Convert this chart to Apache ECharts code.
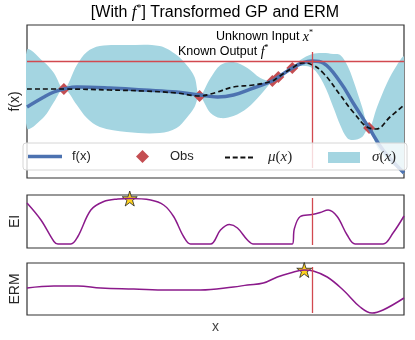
<!DOCTYPE html>
<html>
<head>
<meta charset="utf-8">
<script src="https://cdn.jsdelivr.net/npm/echarts@6/dist/echarts.min.js"></script>
<style>
  html, body { margin: 0; padding: 0; background: #fff; }
  #main { width: 415px; height: 340px; }
</style>
</head>
<body>
<div id="main"></div>
<script>
// top panel: true function f(x)
var fX = [0, 0.17, 0.27, 0.37, 0.50, 0.83, 1.17, 1.50, 1.73, 1.91, 2.07, 2.27, 2.46, 2.52, 2.66, 2.76, 2.86, 2.97, 3.14, 3.27, 3.43, 3.57, 3.78]
var fY = [7.1, 8.1, 8.6, 8.9, 9.1, 9.0, 8.8, 8.6, 8.3, 8.1, 8.3, 9.0, 9.7, 10.1, 11.0, 11.5, 11.7, 11.5, 9.6, 7.5, 5.0, 2.8, 0.5]
// GP mean
var muX = [0, 0.37, 0.83, 1.17, 1.50, 1.73, 1.84, 1.91, 2.07, 2.27, 2.46, 2.52, 2.66, 2.76, 2.84, 2.97, 3.14, 3.27, 3.43, 3.50, 3.64, 3.78]
var muY = [8.9, 8.9, 8.8, 8.7, 8.5, 8.2, 8.4, 8.6, 9.1, 9.3, 9.7, 10.1, 11.0, 11.5, 11.4, 10.5, 8.3, 6.6, 5.0, 4.9, 6.1, 7.3]
// uncertainty band
var sigX = [0, 0.17, 0.27, 0.37, 0.50, 0.60, 0.73, 1.00, 1.33, 1.50, 1.60, 1.68, 1.73, 1.84, 1.94, 2.07, 2.21, 2.34, 2.46, 2.52, 2.59, 2.66, 2.74, 2.86, 2.97, 3.07, 3.14, 3.21, 3.27, 3.36, 3.43, 3.51, 3.61, 3.71, 3.78]
var sigUp = [12.8, 11.6, 10.5, 8.9, 11.3, 12.6, 13.2, 13.3, 13.2, 12.3, 11.3, 10.1, 8.2, 10.0, 11.3, 11.6, 11.0, 10.0, 9.7, 10.1, 10.7, 11.0, 11.8, 12.4, 12.5, 12.4, 12.3, 11.3, 9.8, 7.1, 5.0, 7.1, 9.5, 11.3, 12.1]
var sigLo = [5.0, 6.1, 7.6, 8.9, 7.3, 6.0, 5.1, 4.6, 4.5, 5.0, 6.0, 7.1, 8.2, 6.5, 6.0, 6.2, 7.0, 8.3, 9.7, 10.1, 10.4, 11.0, 11.2, 11.0, 9.5, 7.1, 5.3, 4.0, 3.8, 4.1, 5.0, 3.1, 1.8, 1.0, 0.5]
// observations
var obsX = [0.37, 1.73, 2.46, 2.52, 2.66, 3.43]
var obsY = [8.9, 8.2, 9.7, 10.1, 11.0, 5.0]
// known optimum
var xStar = 2.86
var fStar = 11.7

// EI panel
var eiX = [0, 0.14, 0.27, 0.31, 0.44, 0.51, 0.64, 0.77, 0.91, 1.03, 1.24, 1.37, 1.47, 1.57, 1.64, 1.84, 1.94, 2.03, 2.11, 2.21, 2.27, 2.66, 2.68, 2.74, 2.86, 2.94, 3.02, 3.11, 3.21, 3.29, 3.57, 3.67, 3.78]
var eiY = [0.82, 0.48, 0.05, 0, 0, 0.15, 0.68, 0.85, 0.90, 0.91, 0.88, 0.78, 0.55, 0.15, 0, 0, 0.28, 0.39, 0.32, 0.08, 0, 0, 0.30, 0.55, 0.59, 0.63, 0.68, 0.55, 0.18, 0, 0, 0.22, 0.56]
var eiStar = [1.03, 0.91]

// ERM panel
var ermX = [0, 0.27, 0.51, 0.74, 1.07, 1.41, 1.74, 2.07, 2.21, 2.37, 2.51, 2.64, 2.78, 2.87, 3.01, 3.17, 3.34, 3.46, 3.57, 3.78]
var ermY = [2.7, 2.9, 2.9, 2.7, 2.6, 2.5, 2.5, 2.8, 3.0, 3.2, 3.8, 4.2, 4.5, 4.4, 3.8, 2.5, 0.8, 0.2, 0.5, 1.7]
var ermStar = [2.78, 4.5]

var BLUE = '#4c72b0'
var RED = '#c44e52'
var LINE_RED = '#d2494f'
var BAND = '#a4d5e1'
var PURPLE = '#8b1a8b'
var TXT = '#262626'
var SANS = 'Liberation Sans'
var SERIF = 'Liberation Serif'
var STAR = 'path://M50,0 L61,35 L98,35 L68,57 L79,91 L50,70 L21,91 L32,57 L2,35 L39,35 Z'
var DASH = 'path://M0,0h5v2h-5z M7.7,0h5v2h-5z M15.4,0h5v2h-5z M23,0h5v2h-5z'

function pair (xs, ys) {
  return xs.map(function (x, i) { return [x, ys[i]] })
}

var mathRich = {
  m: { fontFamily: SERIF, fontStyle: 'italic', fontSize: 15, color: TXT },
  n: { fontFamily: SERIF, fontSize: 15, color: TXT }
}

function hiddenX (idx) {
  return {
    type: 'value', gridIndex: idx, min: 0, max: 3.78,
    axisLine: { show: false }, axisTick: { show: false },
    axisLabel: { show: false }, splitLine: { show: false }
  }
}

function yAx (idx, min, max, name) {
  return {
    type: 'value', gridIndex: idx, min: min, max: max,
    name: name, nameLocation: 'middle', nameGap: 5,
    nameTextStyle: { fontFamily: SANS, fontSize: 14, color: TXT },
    axisLine: { show: false }, axisTick: { show: false },
    axisLabel: { show: false }, splitLine: { show: false }
  }
}

function vline (y0, y1) {
  return {
    silent: true, symbol: 'none', label: { show: false },
    lineStyle: { color: LINE_RED, width: 1.3, type: 'solid' },
    data: [[{ coord: [xStar, y0] }, { coord: [xStar, y1] }]]
  }
}

var xAxis2 = hiddenX(2)
xAxis2.name = 'x'
xAxis2.nameLocation = 'middle'
xAxis2.nameGap = 5
xAxis2.nameTextStyle = { fontFamily: SANS, fontSize: 14, color: '#444' }

// one legend per entry, all on the row y ~ 156
function leg (name, icon, color, left, w, h, pad, formatter) {
  var l = {
    data: [{ name: name, icon: icon, itemStyle: { color: color, borderWidth: 0 } }],
    left: left, top: 150, padding: 0, z: 20, selectedMode: false,
    itemWidth: w, itemHeight: h,
    textStyle: { fontFamily: SANS, fontSize: 13, color: TXT, rich: mathRich, padding: [0, 0, 0, pad] }
  }
  if (formatter) l.formatter = formatter
  return l
}

var myChart = echarts.init(document.getElementById('main'))
myChart.setOption({
  animation: false,
  grid: [
    { left: 26, right: 11, top: 25, height: 153, show: true, borderColor: '#333', borderWidth: 1.2 },
    { left: 26, right: 11, top: 195, height: 53, show: true, borderColor: '#333', borderWidth: 1.2 },
    { left: 26, right: 11, top: 263, height: 52, show: true, borderColor: '#333', borderWidth: 1.2 }
  ],
  xAxis: [hiddenX(0), hiddenX(1), xAxis2],
  yAxis: [yAx(0, 0, 15.3, 'f(x)'), yAx(1, -0.08, 0.98, 'EI'), yAx(2, 0, 5.2, 'ERM')],
  legend: [
    leg('f(x)', 'rect', BLUE, 28, 34, 3.5, 5),
    leg('Obs', 'diamond', RED, 136, 13, 13, 16),
    leg('μ(x)', DASH, '#111', 225, 28, 2, 10, function () { return '{m|μ}{n|(}{m|x}{n|)}' }),
    leg('σ(x)', 'rect', BAND, 328, 32, 11, 7, function () { return '{m|σ}{n|(}{m|x}{n|)}' })
  ],
  graphic: [
    {
      type: 'text', x: 215, y: 13, z: 20,
      style: {
        text: '{t|[With }{m|f}{s|*}{t|] Transformed GP and ERM}',
        align: 'center', verticalAlign: 'middle',
        rich: {
          t: { fontFamily: SANS, fontSize: 16, color: TXT },
          m: { fontFamily: SERIF, fontStyle: 'italic', fontSize: 17, color: TXT },
          s: { fontFamily: SERIF, fontSize: 10, color: TXT, padding: [0, 0, 10, 0] }
        }
      }
    },
    {
      type: 'text', x: 216, y: 37, z: 20,
      style: {
        text: '{t|Unknown Input }{m|x}{s|*}',
        align: 'left', verticalAlign: 'middle',
        rich: {
          t: { fontFamily: SANS, fontSize: 12.5, color: TXT },
          m: { fontFamily: SERIF, fontStyle: 'italic', fontSize: 14, color: TXT },
          s: { fontFamily: SERIF, fontSize: 8, color: TXT, padding: [0, 0, 8, 0] }
        }
      }
    },
    {
      type: 'text', x: 178, y: 52, z: 20,
      style: {
        text: '{t|Known Output }{m|f}{s|*}',
        align: 'left', verticalAlign: 'middle',
        rich: {
          t: { fontFamily: SANS, fontSize: 12.5, color: TXT },
          m: { fontFamily: SERIF, fontStyle: 'italic', fontSize: 14, color: TXT },
          s: { fontFamily: SERIF, fontSize: 8, color: TXT, padding: [0, 0, 8, 0] }
        }
      }
    },
    {
      type: 'rect', z: 10,
      shape: { x: 23, y: 143, width: 384, height: 27, r: 3 },
      style: { fill: 'rgba(255,255,255,0.8)', stroke: '#d6d6d6', lineWidth: 1 }
    }
  ],
  series: [
    {
      name: 'σ(x)', type: 'custom', xAxisIndex: 0, yAxisIndex: 0, coordinateSystem: 'cartesian2d',
      data: [[0, 0]], clip: true, silent: true, itemStyle: { color: BAND },
      renderItem: function (params, api) {
        var pts = []
        var i
        for (i = 0; i < sigX.length; i++) pts.push(api.coord([sigX[i], sigUp[i]]))
        for (i = sigX.length - 1; i >= 0; i--) pts.push(api.coord([sigX[i], sigLo[i]]))
        return { type: 'polygon', shape: { points: pts, smooth: 0.35 }, style: { fill: BAND } }
      }
    },
    {
      name: 'f(x)', type: 'line', xAxisIndex: 0, yAxisIndex: 0,
      data: pair(fX, fY), smooth: 0.4, symbol: 'none', silent: true,
      itemStyle: { color: BLUE }, lineStyle: { color: BLUE, width: 3.5 }
    },
    {
      name: 'μ(x)', type: 'line', xAxisIndex: 0, yAxisIndex: 0,
      data: pair(muX, muY), smooth: 0.4, symbol: 'none', silent: true,
      itemStyle: { color: '#111' }, lineStyle: { color: '#111', width: 1.7, type: [5, 3] }
    },
    {
      name: 'refLines', type: 'line', xAxisIndex: 0, yAxisIndex: 0, data: [], silent: true,
      markLine: {
        silent: true, symbol: 'none', label: { show: false },
        lineStyle: { color: LINE_RED, width: 1.3, type: 'solid' },
        data: [
          [{ coord: [0, fStar] }, { coord: [3.78, fStar] }],
          [{ coord: [xStar, 12.6] }, { coord: [xStar, 1.0] }]
        ]
      }
    },
    {
      name: 'Obs', type: 'scatter', xAxisIndex: 0, yAxisIndex: 0,
      data: pair(obsX, obsY), symbol: 'diamond', symbolSize: 12, silent: true,
      itemStyle: { color: RED, opacity: 1 }
    },
    {
      name: 'EI', type: 'line', xAxisIndex: 1, yAxisIndex: 1,
      data: pair(eiX, eiY), smooth: 0.35, symbol: 'none', silent: true,
      lineStyle: { color: PURPLE, width: 1.5 },
      markLine: vline(-0.02, 0.92)
    },
    {
      name: 'EIstar', type: 'scatter', xAxisIndex: 1, yAxisIndex: 1,
      data: [eiStar], symbol: STAR, symbolSize: 15, silent: true,
      itemStyle: { color: '#ffd21f', borderColor: '#222', borderWidth: 0.8, opacity: 1 }
    },
    {
      name: 'ERM', type: 'line', xAxisIndex: 2, yAxisIndex: 2,
      data: pair(ermX, ermY), smooth: 0.4, symbol: 'none', silent: true,
      lineStyle: { color: PURPLE, width: 1.5 },
      markLine: vline(0.2, 4.8)
    },
    {
      name: 'ERMstar', type: 'scatter', xAxisIndex: 2, yAxisIndex: 2,
      data: [ermStar], symbol: STAR, symbolSize: 15, silent: true,
      itemStyle: { color: '#ffd21f', borderColor: '#222', borderWidth: 0.8, opacity: 1 }
    }
  ]
})
</script>
</body>
</html>
